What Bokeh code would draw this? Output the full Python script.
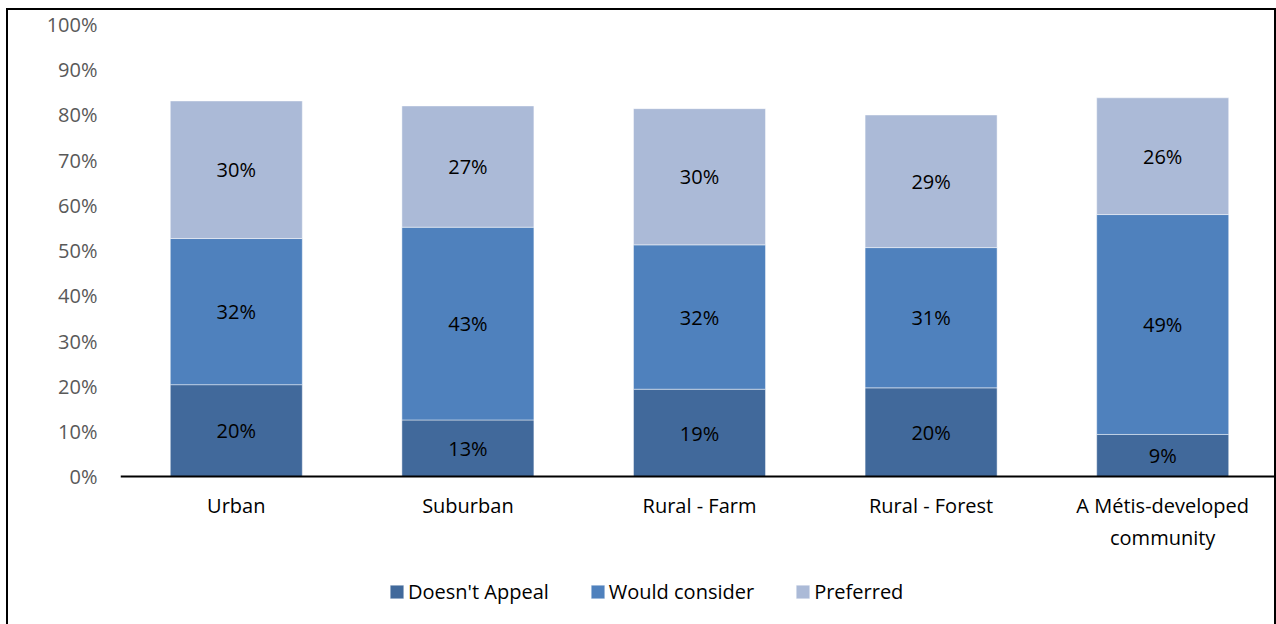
from bokeh.plotting import figure
from bokeh.models import Range1d, Legend, LegendItem, PrintfTickFormatter, ColumnDataSource, FixedTicker
from bokeh.core.properties import value
from bokeh.embed import file_html
from bokeh.resources import INLINE

categories = ["Urban", "Suburban", "Rural - Farm", "Rural - Forest", "A Métis-developed\ncommunity"]
series = ["Doesn't Appeal", "Would consider", "Preferred"]
doesnt_appeal = [20.4, 12.6, 19.4, 19.7, 9.4]
would_consider = [32.3, 42.6, 31.9, 31.0, 48.6]
preferred = [30.4, 26.8, 30.1, 29.3, 25.8]
y_ticks = [0, 10, 20, 30, 40, 50, 60, 70, 80, 90, 100]

colors = ["#41699b", "#4f81bd", "#abbad7"]
FONT = "Open Sans"

keys = ["s0", "s1", "s2"]
data = {"cat": categories, "s0": doesnt_appeal, "s1": would_consider, "s2": preferred}
source = ColumnDataSource(data)

# frame extends below 0% so that the category labels and legend sit inside it
p = figure(x_range=categories, y_range=Range1d(-33.04, 100), width=1270, height=616,
           output_backend="svg", toolbar_location=None,
           min_border_left=112, min_border_right=0, min_border_top=14, min_border_bottom=0)
p.styles = {"border-top": "2px solid black", "border-left": "2px solid black",
            "border-right": "2px solid black", "margin-left": "6px", "margin-top": "8px"}

renderers = p.vbar_stack(keys, x="cat", width=0.57, color=colors, source=source,
                         line_color="white", line_alpha=0.45, line_width=1)

# segment labels
lx, ly, lt = [], [], []
for i, c in enumerate(categories):
    base = 0.0
    for arr in (doesnt_appeal, would_consider, preferred):
        v = arr[i]
        lx.append(c)
        ly.append(base + v / 2)
        lt.append(f"{v:.0f}%")
        base += v
p.text(x=lx, y=ly, text=lt, text_align="center", text_baseline="middle",
       text_font=value(FONT), text_font_size="20px", text_color="black")

p.xgrid.visible = False
p.ygrid.visible = False
p.outline_line_color = None

xa = p.xaxis[0]
xa.fixed_location = 0
xa.axis_line_color = "black"
xa.axis_line_width = 2
xa.major_tick_line_color = None
xa.minor_tick_line_color = None
xa.major_label_text_font = FONT
xa.major_label_text_font_size = "20px"
xa.major_label_text_color = "black"
xa.major_label_standoff = 9

ya = p.yaxis[0]
ya.axis_line_color = None
ya.major_tick_line_color = None
ya.minor_tick_line_color = None
ya.ticker = FixedTicker(ticks=y_ticks)
ya.formatter = PrintfTickFormatter(format="%d%%")
ya.major_label_text_font = FONT
ya.major_label_text_font_size = "20px"
ya.major_label_text_color = "#595959"
ya.major_label_standoff = 17

items = [LegendItem(label=s, renderers=[r]) for s, r in zip(series, renderers)]
legend = Legend(items=items, orientation="horizontal", location=(268, 21),
                label_text_font=FONT, label_text_font_size="20px", label_text_color="black",
                glyph_width=17, glyph_height=17, label_standoff=3, spacing=40,
                border_line_color=None, background_fill_alpha=0, padding=0, margin=0)
p.add_layout(legend, "center")

open("out.html", "w").write(file_html(p, INLINE))
